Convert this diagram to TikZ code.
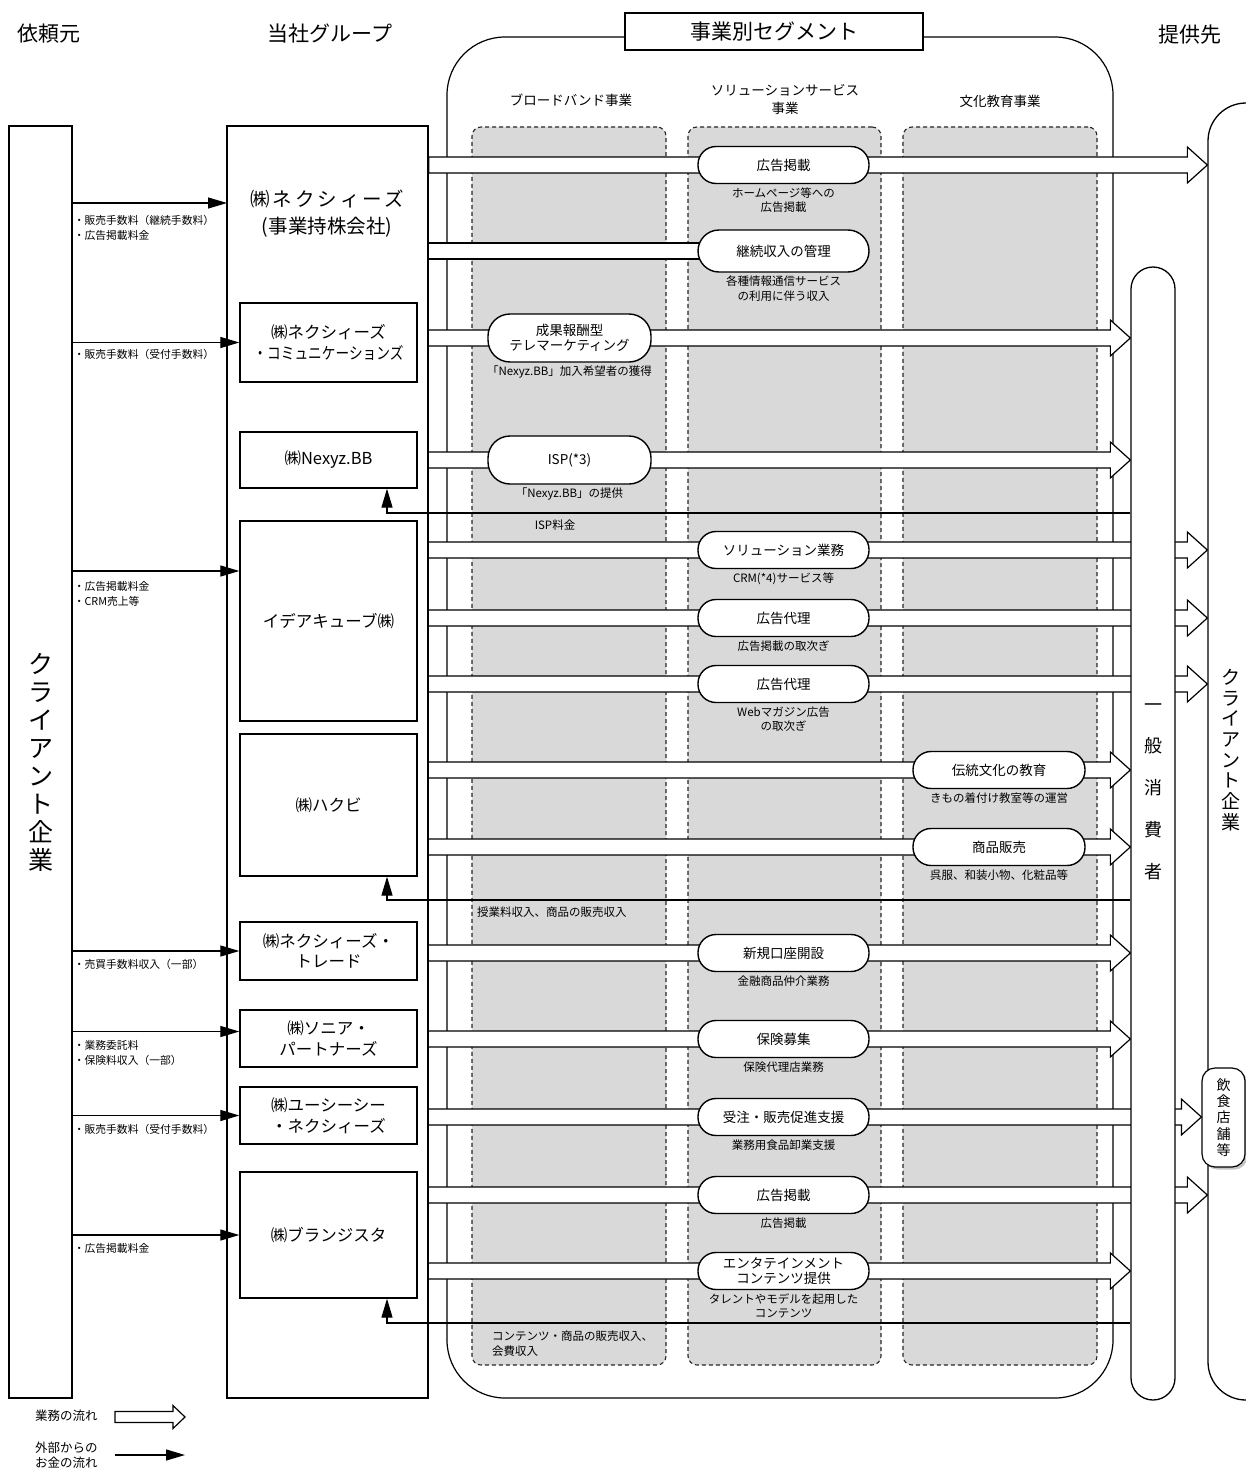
\documentclass[tikz,border=0pt]{standalone}
\usepackage{fontspec}
\setmainfont{Noto Sans CJK JP}
\usepackage{graphicx}
\usetikzlibrary{positioning}
\usetikzlibrary{calc}
\usetikzlibrary{arrows.meta}
\usetikzlibrary{shadows}
\pgfdeclarelayer{background}
\pgfdeclarelayer{flow}
\pgfsetlayers{background,flow,main}

% hollow business flow arrow: from, to, half shaft, half head, head length
\newcommand{\bizflowsized}[5]{%
	\filldraw[flowline] let \p1=(#1), \p2=(#2) in
		(\x1,\y1+#3) -- (\x2-#5,\y1+#3) -- (\x2-#5,\y1+#4) -- (\x2,\y1)
		-- (\x2-#5,\y1-#4) -- (\x2-#5,\y1-#3) -- (\x1,\y1-#3) -- cycle;}
\newcommand{\bizflow}[2]{\bizflowsized{#1}{#2}{8pt}{18pt}{20pt}}
\newcommand{\bizbar}[2]{%
	\filldraw[flowline] let \p1=(#1), \p2=(#2) in
		(\x1,\y1+8pt) rectangle (\x2,\y1-8pt);}

\begin{document}
\begin{tikzpicture}[x=1pt,y=-1pt,
						headtxt/.style={font=\fontsize{21}{25}\selectfont},
						colhead/.style={font=\fontsize{13.5}{18}\selectfont, align=center},
						column/.style={draw=black!85, dashed, dash pattern=on 4pt off 3pt, line width=1.1pt, fill=black!15, rounded corners=9pt},
						plainbox/.style={draw, line width=1.3pt, fill=white},
						cobox/.style={plainbox, minimum width=177pt, align=center, font=\fontsize{16.5}{20.5}\selectfont},
						pill/.style={draw, line width=1.4pt, fill=white, rounded corners=18pt, minimum width=171pt, minimum height=37pt, inner sep=0pt, align=center, font=\fontsize{13.5}{15.5}\selectfont},
						widepill/.style={pill, minimum width=163pt, minimum height=48pt, rounded corners=22pt},
						sublbl/.style={font=\fontsize{11.5}{14.5}\selectfont, align=center, inner sep=0pt},
						moneylbl/.style={font=\fontsize{10.8}{15}\selectfont, align=left, anchor=north west, inner xsep=0.5pt, inner ysep=8pt},
						money/.style={line width=1.2pt, -{Triangle[length=19pt,width=11pt]}},
						flowline/.style={draw, fill=white, line width=1.2pt},
						vtext/.style={align=center, inner sep=0pt},
						legtxt/.style={font=\fontsize{12.5}{15}\selectfont, align=left, anchor=west, inner sep=0pt},
						]
						\useasboundingbox (0,0) rectangle (1246,1469);
						\clip (0,0) rectangle (1246,1469);

						%Headers
						\node[headtxt]      (hdFrom) 	at 	(49,34)           {依頼元};
						\node[headtxt]      (hdGroup) 	at 	(330,34)          {当社グループ};
						\node[headtxt]      (hdTo) 	at 	(1190,35)         {提供先};

						\begin{pgfonlayer}{background}
						%Segment frame and columns
						\node[draw, line width=1.2pt, rounded corners=58pt, minimum width=666pt, minimum height=1361pt] (segframe) at (780,717.5) {};
						\node[column, minimum width=194pt, minimum height=1238pt] (colBB)  at (569,746)   {};
						\node[column, minimum width=193pt, minimum height=1238pt] (colSol) at (784.5,746) {};
						\node[column, minimum width=194pt, minimum height=1238pt] (colCul) at (1000,746)  {};
						\end{pgfonlayer}
						\node[plainbox, line width=2pt, minimum width=298pt, minimum height=37pt, headtxt] (seg) at (774,31.5) {事業別セグメント};
						\node[colhead]      (hdBB) 	at 	(571,100)         {ブロードバンド事業};
						\node[colhead]      (hdSol) 	at 	(785,99)          {ソリューションサービス\\事業};
						\node[colhead]      (hdCul) 	at 	(1000,101)        {文化教育事業};

						%Clients and group
						\node[plainbox, minimum width=63pt, minimum height=1272pt, vtext, font=\fontsize{25}{28}\selectfont] (clientL) at (40.5,762) {ク\\ラ\\イ\\ア\\ン\\ト\\企\\業};
						\node[plainbox, minimum width=201pt, minimum height=1272pt] (grp) at (327.5,762) {};
						\node[font=\fontsize{19.5}{27}\selectfont, align=center] (hq) at (327,213.5) {{\addfontfeature{LetterSpace=15}㈱ネクシィーズ}\\(事業持株会社)};
						\node[cobox, minimum height=79pt]      (comm) 	at 	(328.5,342.5)   {㈱ネクシィーズ\\\scalebox{0.83}[1]{・コミュニケーションズ}};
						\node[cobox, minimum height=56pt]      (bb) 	at 	(328.5,460)     {㈱Nexyz.BB};
						\node[cobox, minimum height=200pt]     (idea) 	at 	(328.5,621)     {イデアキューブ㈱};
						\node[cobox, minimum height=142pt]     (hakubi) 	at 	(328.5,805)     {㈱ハクビ};
						\node[cobox, minimum height=58pt]      (trade) 	at 	(328.5,951)     {㈱ネクシィーズ・\\トレード};
						\node[cobox, minimum height=57pt]      (sonia) 	at 	(328.5,1038.5)  {㈱ソニア・\\パートナーズ};
						\node[cobox, minimum height=57pt]      (ucc) 	at 	(328.5,1115.5)  {㈱ユーシーシー\\・ネクシィーズ};
						\node[cobox, minimum height=126pt]     (plan) 	at 	(328.5,1235)    {㈱ブランジスタ};

						%Receivers
						\node[plainbox, rounded corners=22pt, minimum width=44pt, minimum height=1133pt] (consumer) at (1153,833.5) {};
						\node[vtext, font=\fontsize{18}{41.75}\selectfont] (consumertxt) at (1153,791.5) {一\\般\\消\\費\\者};
						\node[plainbox, rounded corners=38pt, minimum width=76pt, minimum height=1297pt] (clientR) at (1246,751.5) {};
						\node[vtext, font=\fontsize{19}{20.7}\selectfont] (clientRtxt) at (1231,750) {ク\\ラ\\イ\\ア\\ン\\ト\\企\\業};
						\node[plainbox, line width=1.2pt, rounded corners=13pt, minimum width=43pt, minimum height=99pt, vtext, font=\fontsize{14}{16.25}\selectfont, drop shadow={shadow xshift=2.5pt, shadow yshift=-2.5pt, fill=black!45}] (food) at (1223.5,1117.5) {飲\\食\\店\\舗\\等};

						%Services
						\node[pill]                                   (ad1)   at (783.5,165)  {広告掲載};
						\node[pill, minimum height=42pt, rounded corners=21pt] (rev) at (783.5,251) {継続収入の管理};
						\node[widepill]                               (tele)  at (569.5,338)  {成果報酬型\\テレマーケティング};
						\node[widepill]                               (isp)   at (569.5,460)  {ISP(*3)};
						\node[pill]                                   (sol)   at (783.5,550)  {ソリューション業務};
						\node[pill]                                   (agt1)  at (783.5,618)  {広告代理};
						\node[pill]                                   (agt2)  at (783.5,684)  {広告代理};
						\node[pill, minimum width=172pt]              (edu)   at (999,770)    {伝統文化の教育};
						\node[pill, minimum width=172pt]              (sale)  at (999,847)    {商品販売};
						\node[pill]                                   (acct)  at (783.5,953)  {新規口座開設};
						\node[pill]                                   (ins)   at (783.5,1039) {保険募集};
						\node[pill]                                   (order) at (783.5,1117) {受注・販売促進支援};
						\node[pill]                                   (ad2)   at (783.5,1195) {広告掲載};
						\node[pill]                                   (ent)   at (783.5,1271) {エンタテインメント\\コンテンツ提供};

						\node[sublbl, below=3pt of ad1]   (ad1s)   {ホームページ等への\\広告掲載};
						\node[sublbl, below=3pt of rev]   (revs)   {各種情報通信サービス\\の利用に伴う収入};
						\node[sublbl, below=3pt of tele]  (teles)  {「Nexyz.BB」加入希望者の獲得};
						\node[sublbl, below=3pt of isp]   (isps)   {「Nexyz.BB」の提供};
						\node[sublbl, below=3pt of sol]   (sols)   {CRM(*4)サービス等};
						\node[sublbl, below=3pt of agt1]  (agt1s)  {広告掲載の取次ぎ};
						\node[sublbl, below=3pt of agt2]  (agt2s)  {Webマガジン広告\\の取次ぎ};
						\node[sublbl, below=3pt of edu]   (edus)   {きもの着付け教室等の運営};
						\node[sublbl, below=3pt of sale]  (sales)  {呉服、和装小物、化粧品等};
						\node[sublbl, below=3pt of acct]  (accts)  {金融商品仲介業務};
						\node[sublbl, below=3pt of ins]   (inss)   {保険代理店業務};
						\node[sublbl, below=3pt of order] (orders) {業務用食品卸業支援};
						\node[sublbl, below=3pt of ad2]   (ad2s)   {広告掲載};
						\node[sublbl, below=3pt of ent]   (ents)   {タレントやモデルを起用した\\コンテンツ};

						%Money in
						\coordinate (hqin) at (227,203);
						\coordinate (ideain) at ([yshift=50pt]idea.west);
						\coordinate (soniain) at ([yshift=7pt]sonia.west);
						\draw[money] (clientL.east |- hqin) node[moneylbl, yshift=-4pt] {・販売手数料（継続手数料）\\・広告掲載料金} -- (hqin);
						\draw[money] (clientL.east |- comm.west) node[moneylbl, yshift=2pt] {・販売手数料（受付手数料）} -- (comm.west);
						\draw[money] (clientL.east |- ideain) node[moneylbl, yshift=-2pt] {・広告掲載料金\\・CRM売上等} -- (ideain);
						\draw[money] (clientL.east |- trade.west) node[moneylbl] {・売買手数料収入（一部）} -- (trade.west);
						\draw[money] (clientL.east |- soniain) node[moneylbl] {・業務委託料\\・保険料収入（一部）} -- (soniain);
						\draw[money] (clientL.east |- ucc.west) node[moneylbl] {・販売手数料（受付手数料）} -- (ucc.west);
						\draw[money] (clientL.east |- plan.west) node[moneylbl] {・広告掲載料金} -- (plan.west);

						%Money back
						\coordinate (retBB) at (387,513);
						\coordinate (retHK) at (387,900);
						\coordinate (retPL) at (387,1323);
						\draw[money] (consumer.west |- retBB) -- (retBB) -- (retBB |- bb.south);
						\draw[money] (consumer.west |- retHK) -- (retHK) -- (retHK |- hakubi.south);
						\draw[money] (consumer.west |- retPL) -- (retPL) -- (retPL |- plan.south);
						\node[sublbl]                         (retBBlbl) at (555,525)  {ISP料金};
						\node[sublbl, anchor=west]            (retHKlbl) at (477,912)  {授業料収入、商品の販売収入};
						\node[sublbl, anchor=north west, align=left] (retPLlbl) at (492,1331) {コンテンツ・商品の販売収入、\\会費収入};

						\begin{pgfonlayer}{flow}
						%Business flows
						\bizflow{grp.east |- ad1}{clientR.west |- ad1}
						\bizbar{grp.east |- rev}{rev}
						\bizflow{comm.east |- tele}{consumer.west |- tele}
						\bizflow{bb.east |- isp}{consumer.west |- isp}
						\bizflow{idea.east |- sol}{clientR.west |- sol}
						\bizflow{idea.east |- agt1}{clientR.west |- agt1}
						\bizflow{idea.east |- agt2}{clientR.west |- agt2}
						\bizflow{hakubi.east |- edu}{consumer.west |- edu}
						\bizflow{hakubi.east |- sale}{consumer.west |- sale}
						\bizflow{trade.east |- acct}{consumer.west |- acct}
						\bizflow{sonia.east |- ins}{consumer.west |- ins}
						\bizflow{ucc.east |- order}{food.west |- order}
						\bizflow{plan.east |- ad2}{clientR.west |- ad2}
						\bizflow{plan.east |- ent}{consumer.west |- ent}
						\end{pgfonlayer}

						%Legend
						\node[legtxt] (lgBiz) at (35,1416) {業務の流れ};
						\coordinate (lgBizA) at (115,1417);
						\coordinate (lgBizB) at (185,1417);
						\bizflowsized{lgBizA}{lgBizB}{5.5pt}{11.5pt}{12pt}
						\node[legtxt] (lgMoney) at (35,1455.5) {外部からの\\お金の流れ};
						\coordinate (lgMoneyA) at (115,1455);
						\coordinate (lgMoneyB) at (185,1455);
						\draw[money] (lgMoneyA) -- (lgMoneyB);
					\end{tikzpicture}
\end{document}
